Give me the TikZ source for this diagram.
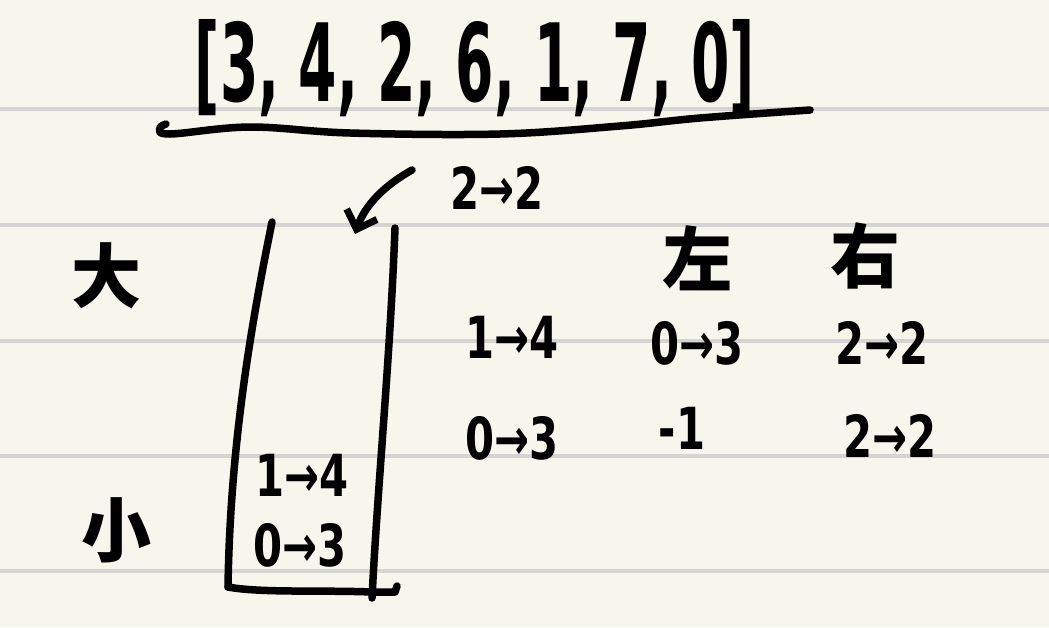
\documentclass[tikz,border=0pt]{standalone}
\usepackage{fontspec}
\setmainfont{DejaVu Sans}
\newfontfamily\cjk{Noto Sans CJK SC}
\usetikzlibrary{arrows.meta}
\definecolor{paper}{HTML}{F7F6EC}
\definecolor{ruling}{HTML}{D4D4D2}
\newcommand{\hw}[1]{\scalebox{0.72}[1.0]{#1}}
\tikzset{
  hand/.style={line width=7.5pt, line cap=round, line join=round},
  txt/.style={font=\fontsize{58}{58}\selectfont\bfseries, inner sep=0pt},
  cn/.style={font=\cjk\fontsize{70}{70}\selectfont\bfseries, inner sep=0pt}
}
\begin{document}
\begin{tikzpicture}[x=1pt,y=-1pt]
\fill[paper] (0,0) rectangle (1049,627);
\useasboundingbox (0,0) rectangle (1049,627);
\foreach \y in {109,225,341,456,571} \draw[ruling, line width=4pt] (0,\y) -- (1049,\y);

% array
\node[inner sep=0pt] (array) at (475,68) {\resizebox{560pt}{82pt}{\bfseries [3, 4, 2, 6, 1, 7, 0]}};
\draw[hand] plot[smooth, tension=0.6] coordinates {(166,124) (160,128) (170,134) (250,127) (350,133) (500,134) (620,126) (700,118) (810,110)};

% arrow with label
\node[txt] (top22) at (497,188) {\hw{2→2}};
\coordinate (astart) at (412,170);
\coordinate (atip) at (355,234);
\draw[hand, -{Straight Barb[length=16pt,width=32pt,line width=7pt]}] (astart) .. controls (385,185) and (365,205) .. (atip);

% box
\draw[hand] (272,222) .. controls (250,330) and (230,450) .. (228,587);
\draw[hand] (228,587) .. controls (260,593) and (320,590) .. (372,592) -- (395,592) -- (397,586);
\draw[hand] (395,228) .. controls (390,360) and (378,480) .. (372,598);

\node[txt] (s14) at (302,475) {\hw{1→4}};
\node[txt] (s03) at (300,545) {\hw{0→3}};

% labels big / small
\node[cn] (big) at (106,276) {大};
\node[cn] (small) at (116,530) {小};

% table
\node[cn] (left) at (697,258) {左};
\node[cn] (right) at (865,256) {右};
\node[txt] (r1a) at (512,337) {\hw{1→4}};
\node[txt] (r1b) at (697,343) {\hw{0→3}};
\node[txt] (r1c) at (882,343) {\hw{2→2}};
\node[txt] (r2a) at (512,438) {\hw{0→3}};
\node[txt] (r2b) at (682,428) {\hw{-1}};
\node[txt] (r2c) at (890,436) {\hw{2→2}};
\end{tikzpicture}
\end{document}
